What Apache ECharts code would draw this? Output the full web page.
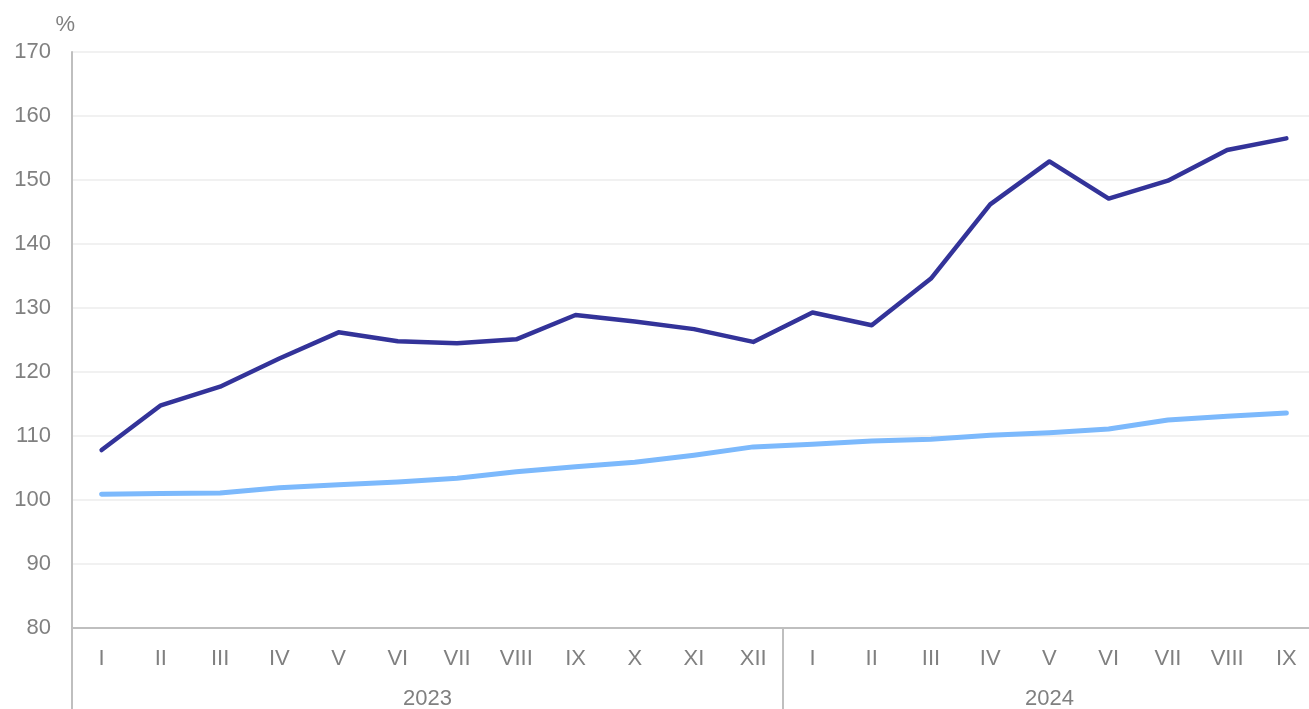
<!DOCTYPE html>
<html>
<head>
<meta charset="utf-8">
<script src="https://cdn.jsdelivr.net/npm/echarts@6/dist/echarts.min.js"></script>
<style>
  html, body { margin: 0; padding: 0; background: #fff; overflow: hidden; }
  /* the plot runs a few pixels past the right edge of the window */
  #chart { width: 1316px; height: 709px; }
</style>
</head>
<body>
<div id="chart"></div>
<script>
const months = ['I', 'II', 'III', 'IV', 'V', 'VI', 'VII', 'VIII', 'IX', 'X', 'XI', 'XII',
  'I', 'II', 'III', 'IV', 'V', 'VI', 'VII', 'VIII', 'IX'];
const years = ['2023', '2024'];
const darkSeries = [107.8, 114.8, 117.7, 122.1, 126.2, 124.8, 124.5, 125.1, 128.9, 127.9, 126.7, 124.7,
  129.3, 127.3, 134.6, 146.2, 152.9, 147.1, 149.9, 154.7, 156.5];
const lightSeries = [100.9, 101.0, 101.1, 101.9, 102.4, 102.8, 103.4, 104.4, 105.2, 105.9, 107.0, 108.3,
  108.7, 109.2, 109.5, 110.1, 110.5, 111.1, 112.5, 113.1, 113.6];

const gray = '#808080';
const font = 'Liberation Sans, Arial, sans-serif';

const chart = echarts.init(document.getElementById('chart'));
chart.setOption({
  animation: false,
  textStyle: { fontFamily: font },
  grid: { left: 72, top: 52, bottom: 81, right: 0, outerBoundsMode: 'none' },
  xAxis: [
    {
      type: 'category',
      data: months,
      boundaryGap: true,
      axisLine: { lineStyle: { color: '#bfbfbf', width: 2 } },
      axisTick: {
        show: true,
        length: 82,
        interval: (i) => i === 0 || i === 12,
        lineStyle: { color: '#bfbfbf', width: 2 }
      },
      axisLabel: { color: gray, fontSize: 22, margin: 20, interval: 0, fontFamily: font },
      splitLine: { show: false }
    },
    {
      type: 'value',
      position: 'bottom',
      min: 0,
      max: months.length,
      offset: 42,
      axisLine: { show: false },
      axisTick: { show: false },
      splitLine: { show: false },
      axisLabel: {
        customValues: [6, 16.5],
        color: gray,
        fontSize: 22,
        margin: 18,
        fontFamily: font,
        formatter: (v) => (v < 12 ? years[0] : years[1])
      }
    }
  ],
  yAxis: {
    type: 'value',
    min: 80,
    max: 170,
    interval: 10,
    name: '%',
    nameLocation: 'end',
    nameGap: 16,
    nameTextStyle: { color: gray, fontSize: 22, align: 'right', padding: [0, -3, 0, 0], fontFamily: font },
    axisLine: { show: true, lineStyle: { color: '#bfbfbf', width: 2 } },
    axisTick: { show: false },
    axisLabel: { color: gray, fontSize: 22, margin: 21, fontFamily: font },
    splitLine: { lineStyle: { color: '#ececec', width: 1.5 } }
  },
  series: [
    {
      type: 'line',
      data: darkSeries,
      showSymbol: false,
      symbol: 'none',
      lineStyle: { color: '#333399', width: 4.5, cap: 'round', join: 'round' },
      z: 3
    },
    {
      type: 'line',
      data: lightSeries,
      showSymbol: false,
      symbol: 'none',
      lineStyle: { color: '#7cb9fc', width: 5, cap: 'round', join: 'round' },
      z: 2
    }
  ]
});
</script>
</body>
</html>
